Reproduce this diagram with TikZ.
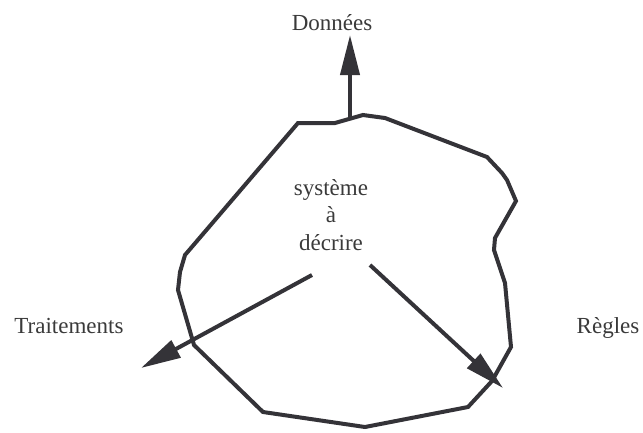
\documentclass[tikz,border=0pt]{standalone}
\usepackage{fontspec}
\setmainfont{Liberation Serif}
\usetikzlibrary{arrows.meta}
\definecolor{ink}{RGB}{52,51,56}
\definecolor{txt}{RGB}{58,58,58}
\begin{document}
\begin{tikzpicture}[x=1pt,y=-1pt,
  outline/.style={draw=ink,line width=4pt,line join=miter},
  flow/.style={draw=ink,line width=4pt,-{Triangle[length=40pt,width=19pt]}},
  label/.style={text=txt,font=\fontsize{23}{27.5}\selectfont,inner sep=0pt}]
\useasboundingbox (0,0) rectangle (643,432);

% contour of the system
\draw[outline] (298,123) -- (335,123) -- (363,115) -- (385,118) -- (487,157)
  -- (502,173) -- (507,180) -- (516,201) -- (495,238) -- (494,250) -- (505,283)
  -- (511,347) -- (492,381) -- (468,407) -- (365,427) -- (263,412) -- (194,345)
  -- (178,290) -- (180,272) -- (185,255) -- cycle;

% labels
\node[label,anchor=base] (donnees) at (332,30) {Données};
\node[label,anchor=base] (traitements) at (69,333) {Traitements};
\node[label,anchor=base] (regles) at (608,333) {Règles};
\node[label,align=center] (systeme) at (331,215) {système\\à\\décrire};

% arrow ends
\coordinate (dStart) at (350,117);
\coordinate (dEnd) at (350,35);
\coordinate (tStart) at (312,275);
\coordinate (tEnd) at (141,368);
\coordinate (rStart) at (370,265);
\coordinate (rEnd) at (503,388);

\draw[flow] (dStart) -- (dEnd);
\draw[flow] (tStart) -- (tEnd);
\draw[flow] (rStart) -- (rEnd);
\end{tikzpicture}
\end{document}
